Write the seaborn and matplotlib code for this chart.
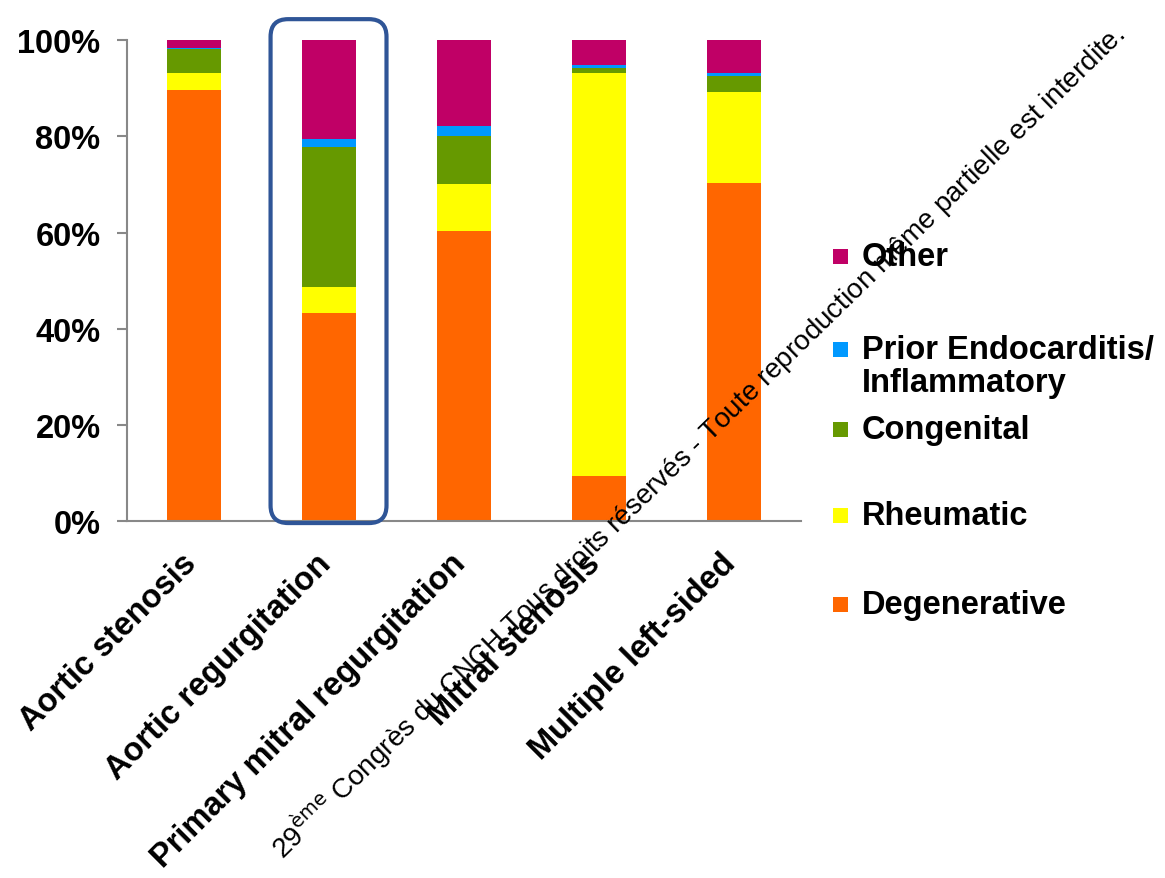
import matplotlib
matplotlib.use("Agg")
import matplotlib.pyplot as plt
import matplotlib.transforms as mtransforms
from matplotlib.patches import Rectangle, FancyBboxPatch
import numpy as np
import pandas as pd
import seaborn as sns

# valeurs (en %)
categories = ["Aortic stenosis", "Aortic regurgitation", "Primary mitral regurgitation",
              "Mitral stenosis", "Multiple left-sided"]
degenerative = [89.6, 43.2, 60.3, 9.4, 70.3]
rheumatic = [3.5, 5.4, 9.8, 83.7, 18.9]
congenital = [5.0, 29.2, 9.9, 1.1, 3.3]
prior_endo = [0.4, 1.6, 2.1, 0.6, 0.8]
other = [1.5, 20.6, 17.9, 5.2, 6.7]

series_names = ["Degenerative", "Rheumatic", "Congenital",
                "Prior Endocarditis/\nInflammatory", "Other"]
series_values = [degenerative, rheumatic, congenital, prior_endo, other]
colors = ["#FF6600", "#FFFF00", "#669900", "#0099FF", "#C00066"]

y_ticks = [0, 20, 40, 60, 80, 100]
y_labels = ["0%", "20%", "40%", "60%", "80%", "100%"]

sns.set_theme(style="white")
plt.rcParams["font.family"] = ["Liberation Sans", "DejaVu Sans"]

fig = plt.figure(figsize=(11.65, 8.79), dpi=100)
ax = fig.add_axes([0.109, 0.406, 0.5786, 0.547])

# barres empilées : on dessine les cumuls du haut vers le bas
df = pd.DataFrame(dict(zip(series_names, series_values)), index=categories)
cum = df.cumsum(axis=1)
for name, col in reversed(list(zip(series_names, colors))):
    sns.barplot(x=cum.index, y=cum[name].values, color=col, width=0.4,
                saturation=1, linewidth=0, ax=ax)

ax.set_xlim(-0.5, len(categories) - 0.5)
ax.set_ylim(0, 100)
ax.set_yticks(y_ticks)
ax.set_yticklabels(y_labels, fontsize=23.5, fontweight="bold", color="black")
ax.set_xticks(range(len(categories)))
ax.set_xticklabels(categories, rotation=45, ha="right", rotation_mode="anchor",
                   fontsize=23.5, fontweight="bold", color="black")
ax.set_xticks(np.arange(-0.5, len(categories)), minor=True)
ax.tick_params(axis="x", which="major", length=0, pad=14)
ax.tick_params(axis="x", which="minor", length=8, width=1.5, color="#888888", direction="out")
ax.tick_params(axis="y", length=7, width=1.5, color="#888888", direction="out", left=True, pad=12)

# petit décalage des étiquettes x (après tick_params, sinon il est écrasé)
shift = mtransforms.ScaledTranslation(-0.14, -0.07, fig.dpi_scale_trans)
for lab in ax.get_xticklabels():
    lab.set_transform(lab.get_transform() + shift)

for s in ["top", "right"]:
    ax.spines[s].set_visible(False)
for s in ["left", "bottom"]:
    ax.spines[s].set_color("#888888")
    ax.spines[s].set_linewidth(1.5)
ax.set_xlabel("")
ax.set_ylabel("")

# cadre arrondi autour de "Aortic regurgitation"
box = FancyBboxPatch((0.565, -0.4), 0.86, 104.8,
                     boxstyle="round,pad=0,rounding_size=0.13", mutation_aspect=28,
                     fill=False, edgecolor="#2F5597", linewidth=3, clip_on=False, zorder=5)
ax.add_patch(box)

# légende (dessinée à la main pour garder l'espacement de l'original)
legend_y = [0.3110, 0.4127, 0.5108, 0.6007, 0.7076]   # centres des carrés (fraction de figure)
sq_w, sq_h = 15 / 1165, 15 / 879
for name, col, yc in zip(series_names, colors, legend_y):
    fig.patches.append(Rectangle((0.715, yc - sq_h / 2), sq_w, sq_h, facecolor=col,
                                 edgecolor="none", transform=fig.transFigure))
    first, *rest = name.split("\n")
    fig.text(0.740, yc, first, fontsize=23.5, fontweight="bold", color="black",
             ha="left", va="center")
    for k, line in enumerate(rest, start=1):
        fig.text(0.740, yc - k * 0.0375, line, fontsize=23.5, fontweight="bold",
                 color="black", ha="left", va="center")

# filigrane
fig.text(0.967, 0.958,
         r"29$^{\mathrm{ème}}$ Congrès du CNCH Tous droits réservés - Toute reproduction même partielle est interdite.",
         rotation=44.3, rotation_mode="anchor", ha="right", va="baseline",
         fontsize=20, color="black", zorder=10)

fig.savefig("out.png", dpi=100)
